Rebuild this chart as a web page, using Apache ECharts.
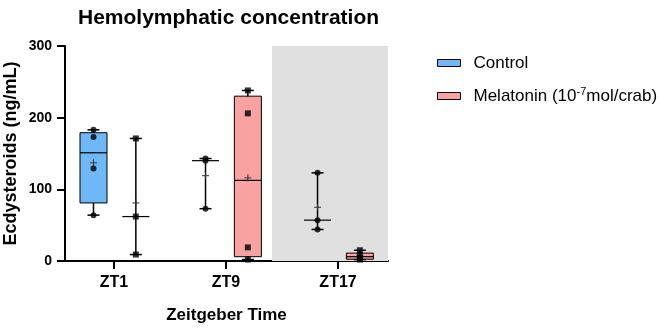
<!DOCTYPE html>
<html>
<head>
<meta charset="utf-8">
<script src="https://cdn.jsdelivr.net/npm/echarts@6/dist/echarts.min.js"></script>
<style>html,body{margin:0;padding:0;background:#fff}#chart{width:671px;height:329px}</style>
</head>
<body>
<div id="chart"></div>
<script>
const categories = ['ZT1', 'ZT9', 'ZT17'];
const yTicks = [0, 100, 200, 300];
// [min, q1, median, q3, max, mean]  (q1/q3 null => no box drawn)
const controlBoxes = [
  [64, 81, 151, 179, 183, 137],
  [73, null, 140, null, 143, 119],
  [44, null, 57, null, 123, 75]
];
const melatoninBoxes = [
  [9, null, 62, null, 171, 81],
  [2, 6, 112.5, 230, 238, 116],
  [2, 2.5, 6, 11, 15, 7]
];
const controlPoints = [
  [183, 173, 129, 64],
  [143, 140, 73],
  [123, 57, 44]
];
const melatoninPoints = [
  [171, 62, 9],
  [238, 206, 19, 2],
  [15, 8, 4, 2]
];
const shadedFrom = 1.41; // shaded region (ZT17, dark phase) starts here on the category scale
const shadedTop = 304;

const controlColor = '#70b7f6';
const melatoninColor = '#f9a2a2';
const offCtrl = -0.183, offMel = 0.195;

function boxData(boxes) {
  return boxes.map((b, i) => [i, b[0], b[1] == null ? NaN : b[1], b[2], b[3] == null ? NaN : b[3], b[4], b[5]]);
}
function pointData(points, off) {
  const out = [];
  points.forEach((arr, i) => arr.forEach(v => out.push([i + off, v])));
  return out;
}
function makeRender(offset, fill) {
  return function (params, api) {
    const x = api.value(0) + offset;
    const P = v => api.coord([x, v]);
    const cx = P(0)[0];
    const yMin = P(api.value(1))[1];
    const q1 = api.value(2), q3 = api.value(4);
    const yMed = P(api.value(3))[1];
    const yMax = P(api.value(5))[1];
    const yMean = P(api.value(6))[1];
    const boxW = 27, capW = 12, plusW = 7;
    const ch = [];
    ch.push({type: 'line', shape: {x1: cx, y1: yMax, x2: cx, y2: yMin}, style: {stroke: '#000', lineWidth: 1.5}});
    ch.push({type: 'line', shape: {x1: cx - capW / 2, y1: yMax, x2: cx + capW / 2, y2: yMax}, style: {stroke: '#000', lineWidth: 1.5}});
    ch.push({type: 'line', shape: {x1: cx - capW / 2, y1: yMin, x2: cx + capW / 2, y2: yMin}, style: {stroke: '#000', lineWidth: 1.5}});
    if (!isNaN(q1) && !isNaN(q3)) {
      const yQ1 = P(q1)[1], yQ3 = P(q3)[1];
      ch.push({type: 'rect', shape: {x: cx - boxW / 2, y: yQ3, width: boxW, height: yQ1 - yQ3}, style: {fill: fill, stroke: '#000', lineWidth: 1}});
    }
    ch.push({type: 'line', shape: {x1: cx - boxW / 2, y1: yMed, x2: cx + boxW / 2, y2: yMed}, style: {stroke: '#000', lineWidth: 1.2}});
    ch.push({type: 'line', shape: {x1: cx - plusW / 2, y1: yMean, x2: cx + plusW / 2, y2: yMean}, style: {stroke: '#333', lineWidth: 1}});
    ch.push({type: 'line', shape: {x1: cx, y1: yMean - plusW / 2, x2: cx, y2: yMean + plusW / 2}, style: {stroke: '#333', lineWidth: 1}});
    return {type: 'group', children: ch};
  };
}

const chart = echarts.init(document.getElementById('chart'), null, {renderer: 'canvas'});
const font = 'Liberation Sans, Arial, sans-serif';
chart.setOption({
  animation: false,
  title: {
    text: 'Hemolymphatic concentration',
    left: 73, top: 3,
    textStyle: {fontFamily: font, fontSize: 21, fontWeight: 'bold', color: '#000'}
  },
  legend: {
    orient: 'vertical', left: 432, top: 49,
    itemWidth: 23, itemHeight: 7, itemGap: 14,
    textStyle: {fontFamily: font, fontSize: 17, color: '#000', lineHeight: 18, padding: [0, 0, 0, 8],
      rich: {sup: {fontFamily: font, fontSize: 11, color: '#000', padding: [0, 0, 9, 0]}}},
    formatter: function (name) {
      return name === 'Melatonin' ? 'Melatonin (10{sup|-7}mol/crab)' : name;
    },
    data: [
      {name: 'Control', icon: 'rect', itemStyle: {color: controlColor, borderColor: '#000', borderWidth: 1}},
      {name: 'Melatonin', icon: 'rect', itemStyle: {color: melatoninColor, borderColor: '#000', borderWidth: 1}}
    ]
  },
  grid: {left: 65, right: 283, top: 46, bottom: 67, containLabel: false},
  xAxis: {
    type: 'value', min: -0.4375, max: 2.446,
    name: 'Zeitgeber Time', nameLocation: 'middle', nameGap: 46,
    nameTextStyle: {fontFamily: font, fontSize: 17, fontWeight: 'bold', color: '#000'},
    axisLine: {onZero: false, lineStyle: {color: '#000', width: 2}},
    axisTick: {show: true, length: 8, lineStyle: {color: '#000', width: 2}, customValues: [0, 1, 2]},
    axisLabel: {customValues: [0, 1, 2], formatter: v => categories[Math.round(v)] || '', margin: 14,
      fontFamily: font, fontSize: 16, fontWeight: 'bold', color: '#000'},
    splitLine: {show: false}
  },
  yAxis: {
    type: 'value', min: 0, max: 300,
    name: 'Ecdysteroids (ng/mL)', nameLocation: 'middle', nameGap: 45,
    nameTextStyle: {fontFamily: font, fontSize: 18, fontWeight: 'bold', color: '#000'},
    axisLine: {show: true, onZero: false, lineStyle: {color: '#000', width: 2}},
    axisTick: {show: true, length: 8, lineStyle: {color: '#000', width: 2}, customValues: yTicks},
    axisLabel: {customValues: yTicks, margin: 13, fontFamily: font, fontSize: 14, fontWeight: 'bold', color: '#000'},
    splitLine: {show: false}
  },
  series: [
    {
      name: 'Control', type: 'custom', z: 3,
      itemStyle: {color: controlColor},
      renderItem: makeRender(offCtrl, controlColor),
      encode: {x: 0, y: [1, 2, 3, 4, 5, 6]},
      data: boxData(controlBoxes),
      clip: false,
      markArea: {
        silent: true,
        itemStyle: {color: '#e0e0e0'},
        data: [[{coord: [shadedFrom, 0]}, {coord: [2.446, shadedTop]}]]
      }
    },
    {
      name: 'Melatonin', type: 'custom', z: 3,
      itemStyle: {color: melatoninColor},
      renderItem: makeRender(offMel, melatoninColor),
      encode: {x: 0, y: [1, 2, 3, 4, 5, 6]},
      data: boxData(melatoninBoxes)
    },
    {
      name: 'ControlPts', type: 'scatter', z: 5, symbol: 'circle', symbolSize: 6,
      itemStyle: {color: '#000'}, data: pointData(controlPoints, offCtrl), silent: true
    },
    {
      name: 'MelatoninPts', type: 'scatter', z: 5, symbol: 'rect', symbolSize: 6,
      itemStyle: {color: '#000'}, data: pointData(melatoninPoints, offMel), silent: true
    }
  ]
});
</script>
</body>
</html>
